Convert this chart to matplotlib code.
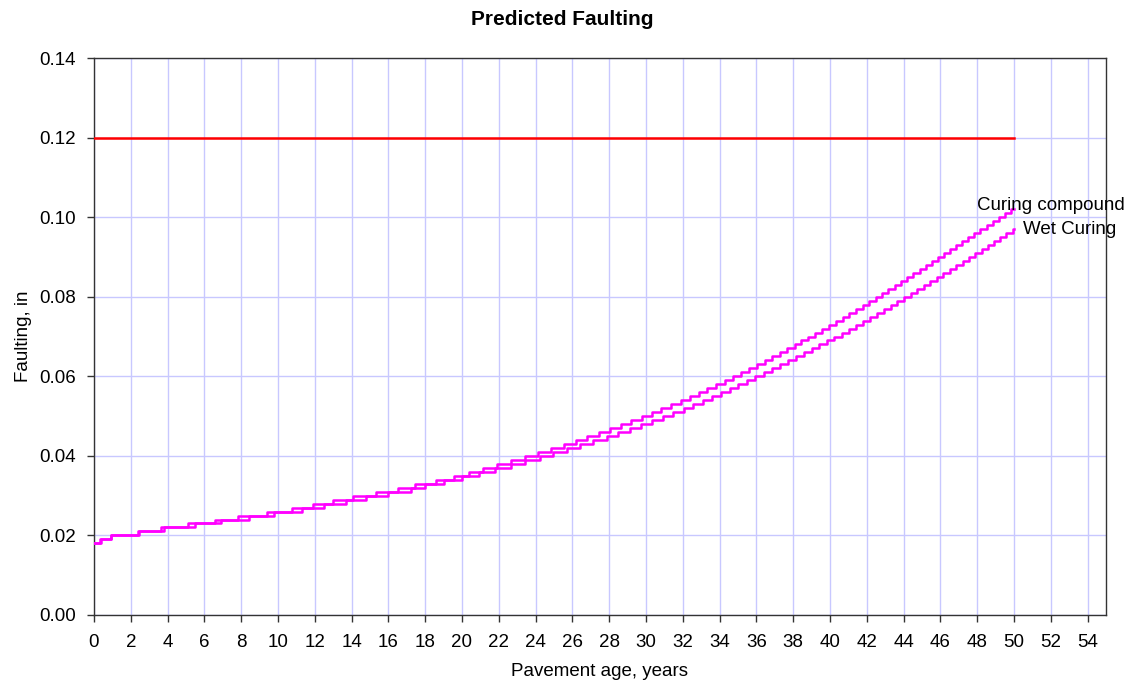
import numpy as np
import matplotlib
matplotlib.use("Agg")
import matplotlib.pyplot as plt

# faulting levels (in) and the pavement age (years) at which each level is first reached
cc_levels = [0.018, 0.019, 0.020, 0.021, 0.022, 0.023, 0.024, 0.025, 0.026, 0.027,
             0.028, 0.029, 0.030, 0.031, 0.032, 0.033, 0.034, 0.035, 0.036, 0.037,
             0.038, 0.039, 0.040, 0.041, 0.042, 0.043, 0.044, 0.045, 0.046, 0.047,
             0.048, 0.049, 0.050, 0.051, 0.052, 0.053, 0.054, 0.055, 0.056, 0.057,
             0.058, 0.059, 0.060, 0.061, 0.062, 0.063, 0.064, 0.065, 0.066, 0.067,
             0.068, 0.069, 0.070, 0.071, 0.072, 0.073, 0.074, 0.075, 0.076, 0.077,
             0.078, 0.079, 0.080, 0.081, 0.082, 0.083, 0.084, 0.085, 0.086, 0.087,
             0.088, 0.089, 0.090, 0.091, 0.092, 0.093, 0.094, 0.095, 0.096, 0.097,
             0.098, 0.099, 0.100, 0.101, 0.102]
cc_ages = [0.0, 0.35, 0.9, 2.4, 3.65, 5.1, 6.6, 7.85, 9.4, 10.75,
           11.9, 13.0, 14.1, 15.35, 16.5, 17.45, 18.6, 19.55, 20.4, 21.15,
           21.92, 22.67, 23.41, 24.14, 24.83, 25.52, 26.19, 26.81, 27.44, 28.06,
           28.63, 29.2, 29.77, 30.32, 30.84, 31.37, 31.89, 32.38, 32.86, 33.33,
           33.81, 34.27, 34.71, 35.16, 35.6, 36.04, 36.45, 36.86, 37.27, 37.67,
           38.08, 38.45, 38.83, 39.21, 39.58, 39.96, 40.33, 40.69, 41.05, 41.42,
           41.78, 42.14, 42.48, 42.83, 43.17, 43.52, 43.86, 44.2, 44.53, 44.87,
           45.2, 45.53, 45.87, 46.2, 46.52, 46.85, 47.18, 47.51, 47.84, 48.17,
           48.51, 48.85, 49.19, 49.53, 49.86]

wc_levels = [0.018, 0.019, 0.020, 0.021, 0.022, 0.023, 0.024, 0.025, 0.026, 0.027,
             0.028, 0.029, 0.030, 0.031, 0.032, 0.033, 0.034, 0.035, 0.036, 0.037,
             0.038, 0.039, 0.040, 0.041, 0.042, 0.043, 0.044, 0.045, 0.046, 0.047,
             0.048, 0.049, 0.050, 0.051, 0.052, 0.053, 0.054, 0.055, 0.056, 0.057,
             0.058, 0.059, 0.060, 0.061, 0.062, 0.063, 0.064, 0.065, 0.066, 0.067,
             0.068, 0.069, 0.070, 0.071, 0.072, 0.073, 0.074, 0.075, 0.076, 0.077,
             0.078, 0.079, 0.080, 0.081, 0.082, 0.083, 0.084, 0.085, 0.086, 0.087,
             0.088, 0.089, 0.090, 0.091, 0.092, 0.093, 0.094, 0.095, 0.096, 0.097]
wc_ages = [0.0, 0.4, 0.9, 2.45, 3.8, 5.5, 6.9, 8.4, 9.8, 11.3,
           12.5, 13.7, 14.8, 16.0, 17.25, 18.0, 19.0, 20.0, 20.91, 21.82,
           22.64, 23.44, 24.22, 24.96, 25.7, 26.43, 27.14, 27.86, 28.5, 29.13,
           29.75, 30.34, 30.91, 31.49, 32.05, 32.56, 33.08, 33.59, 34.09, 34.56,
           35.02, 35.49, 35.95, 36.4, 36.84, 37.29, 37.73, 38.17, 38.58, 39.0,
           39.42, 39.83, 40.24, 40.63, 41.02, 41.41, 41.8, 42.19, 42.56, 42.93,
           43.3, 43.67, 44.04, 44.39, 44.75, 45.11, 45.46, 45.82, 46.17, 46.52,
           46.86, 47.21, 47.55, 47.9, 48.24, 48.58, 48.92, 49.25, 49.59, 49.93]

design_life = 50
limit_age = [0, 50]
limit_value = [0.12, 0.12]

plt.rcParams['font.family'] = ['Liberation Sans', 'DejaVu Sans']

fig = plt.figure(figsize=(11.35, 6.9), dpi=100)
ax = fig.add_axes([0.0828, 0.1087, 0.8916, 0.8072])

grid_col = '#c8c8ff'
ax.set_xlim(0, 55)
ax.set_ylim(0, 0.14)
ax.set_xticks(np.arange(0, 55, 2))
ax.set_yticks(np.arange(0, 0.141, 0.02))
ax.yaxis.set_major_formatter(matplotlib.ticker.FormatStrFormatter('%.2f'))
ax.grid(True, color=grid_col, linewidth=1.0)
ax.set_axisbelow(True)

# step lines, held flat until the end of the design life
def stairs(ages, levels):
    x = list(ages) + [design_life]
    y = list(levels) + [levels[-1]]
    return x, y

x, y = stairs(cc_ages, cc_levels)
ax.plot(x, y, drawstyle='steps-post', color='#ff00ff', linewidth=1.8, zorder=3)
x, y = stairs(wc_ages, wc_levels)
ax.plot(x, y, drawstyle='steps-post', color='#ff00ff', linewidth=1.8, zorder=3)

ax.plot(limit_age, limit_value, color='#ff0000', linewidth=1.8, zorder=3)

ax.text(48.0, 0.1030, 'Curing compound', fontsize=13.5, ha='left', va='center', clip_on=False)
ax.text(50.5, 0.0970, 'Wet Curing', fontsize=13.5, ha='left', va='center', clip_on=False)

for s in ax.spines.values():
    s.set_color('#333333')
    s.set_linewidth(1.0)
ax.tick_params(axis='both', labelsize=13.5, length=5, width=1, color='#333333', direction='out')
ax.tick_params(axis='x', pad=9)
ax.tick_params(axis='y', pad=8)

ax.set_xlabel('Pavement age, years', fontsize=13.5, labelpad=8)
ax.set_ylabel('Faulting, in', fontsize=13.5, labelpad=5)
fig.text(0.495, 0.972, 'Predicted Faulting', fontsize=15, fontweight='bold',
         ha='center', va='center')

fig.savefig('out.png', dpi=100)
